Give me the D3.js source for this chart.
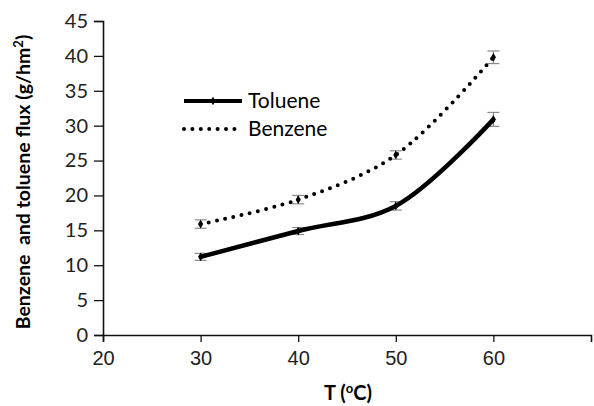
<!DOCTYPE html>
<html>
<head>
<meta charset="utf-8">
<script src="https://d3js.org/d3.v7.min.js"></script>
<style>
  body { margin: 0; background: #fff; }
</style>
</head>
<body></body>
<script>
  // data
  var temps = [30, 40, 50, 60];
  var toluene = [11.2, 14.9, 18.5, 30.9];
  var tolueneErr = [0.5, 0.5, 0.6, 1.0];
  var benzene = [15.9, 19.4, 25.8, 39.8];
  var benzeneErr = [0.6, 0.6, 0.6, 0.9];
  var xTicks = [20, 30, 40, 50, 60];
  var yTicks = [0, 5, 10, 15, 20, 25, 30, 35, 40, 45];

  var W = 594, H = 406;
  var svg = d3.select("body").append("svg")
      .attr("width", W).attr("height", H);

  var x = d3.scaleLinear().domain([20, 70]).range([103, 591]);
  var y = d3.scaleLinear().domain([0, 45]).range([335, 21]);

  // axes
  var yAxis = svg.append("g")
      .attr("transform", "translate(" + x(20) + ",0)")
      .call(d3.axisLeft(y).tickValues(yTicks).tickSize(9).tickPadding(6));
  yAxis.selectAll("text").style("font-family", "Lato, 'Open Sans', sans-serif")
      .style("font-size", "20px").attr("fill", "#222");

  var xAxis = svg.append("g")
      .attr("transform", "translate(0," + y(0) + ")")
      .call(d3.axisBottom(x).tickValues(xTicks).tickSize(7).tickPadding(9));
  xAxis.selectAll("text").style("font-family", "'Liberation Sans', Arial, sans-serif")
      .style("font-size", "20px").attr("fill", "#222");

  svg.selectAll(".domain").attr("stroke", "#111").attr("stroke-width", 1.6);
  svg.selectAll(".tick line").attr("stroke", "#111").attr("stroke-width", 1.3);

  // axis titles
  svg.append("text")
      .attr("transform", "translate(30,182) rotate(-90)")
      .attr("text-anchor", "middle")
      .style("font-family", "Lato, 'Open Sans', sans-serif")
      .style("font-size", "19.5px").style("font-weight", "bold")
      .html("Benzene&#160; and toluene flux (g/hm<tspan dy='-7' font-size='13px'>2</tspan><tspan dy='7'>)</tspan>");

  svg.append("text")
      .attr("x", 348).attr("y", 400)
      .attr("text-anchor", "middle")
      .style("font-family", "Lato, 'Open Sans', sans-serif")
      .style("font-size", "20px").style("font-weight", "bold")
      .html("T (<tspan dy='-7' font-size='13px'>o</tspan><tspan dy='7'>C)</tspan>");

  var line = d3.line()
      .x(function(d) { return x(d.t); })
      .y(function(d) { return y(d.v); })
      .curve(d3.curveCatmullRom.alpha(0.5));

  var series = [
    { name: "Toluene", vals: toluene, err: tolueneErr },
    { name: "Benzene", vals: benzene, err: benzeneErr }
  ];
  series.forEach(function(s) {
    s.pts = temps.map(function(t, i) { return { t: t, v: s.vals[i], e: s.err[i] }; });
  });

  // error bars
  series.forEach(function(s) {
    var g = svg.append("g").attr("stroke", "#8a8a8a").attr("stroke-width", 1.2);
    s.pts.forEach(function(d) {
      g.append("line").attr("x1", x(d.t)).attr("x2", x(d.t))
          .attr("y1", y(d.v - d.e)).attr("y2", y(d.v + d.e));
      [d.v - d.e, d.v + d.e].forEach(function(v) {
        g.append("line").attr("x1", x(d.t) - 6).attr("x2", x(d.t) + 6)
            .attr("y1", y(v)).attr("y2", y(v));
      });
    });
  });

  // toluene solid
  svg.append("path").datum(series[0].pts)
      .attr("d", line).attr("fill", "none")
      .attr("stroke", "#000").attr("stroke-width", 4.5);

  // benzene dotted
  svg.append("path").datum(series[1].pts)
      .attr("d", line).attr("fill", "none")
      .attr("stroke", "#000").attr("stroke-width", 4)
      .attr("stroke-linecap", "round")
      .attr("stroke-dasharray", "0 8.4");

  // markers
  series.forEach(function(s) {
    svg.selectAll(null).data(s.pts).enter().append("path")
        .attr("d", d3.symbol(d3.symbolDiamond, 22))
        .attr("transform", function(d) { return "translate(" + x(d.t) + "," + y(d.v) + ")"; })
        .attr("fill", "#000");
  });

  // legend
  var leg = svg.append("g")
      .style("font-family", "Lato, 'Open Sans', sans-serif")
      .style("font-size", "21px");
  leg.append("line").attr("x1", 184).attr("x2", 242).attr("y1", 101).attr("y2", 101)
      .attr("stroke", "#000").attr("stroke-width", 4);
  leg.append("path").attr("d", d3.symbol(d3.symbolDiamond, 22))
      .attr("transform", "translate(213,101)");
  leg.append("text").attr("x", 248).attr("y", 108).text("Toluene");
  leg.append("line").attr("x1", 184).attr("x2", 242).attr("y1", 129).attr("y2", 129)
      .attr("stroke", "#000").attr("stroke-width", 4)
      .attr("stroke-linecap", "round").attr("stroke-dasharray", "0 8.4");
  leg.append("text").attr("x", 248).attr("y", 136).text("Benzene");
</script>
</html>
